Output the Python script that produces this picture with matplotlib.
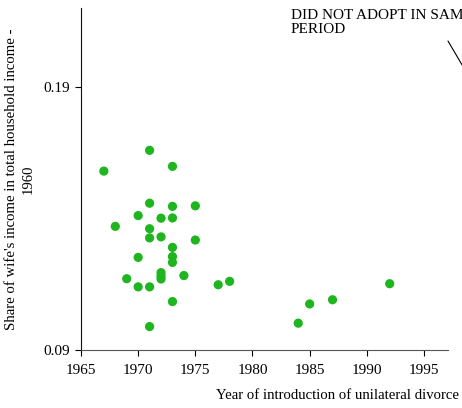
import matplotlib
matplotlib.use("Agg")
import matplotlib.pyplot as plt

plt.rcParams['font.family'] = ['Liberation Serif', 'DejaVu Serif']

# year of introduction of unilateral divorce, wife's income share in 1960
years = [1967, 1968, 1969,
         1970, 1970, 1970,
         1971, 1971, 1971, 1971, 1971, 1971,
         1972, 1972, 1972, 1972, 1972,
         1973, 1973, 1973, 1973, 1973, 1973, 1973,
         1974, 1975, 1975, 1977, 1978,
         1984, 1985, 1987, 1992]
share = [0.1580, 0.1370, 0.1171,
         0.1411, 0.1252, 0.1140,
         0.1659, 0.1458, 0.1361, 0.1326, 0.1140, 0.0989,
         0.1401, 0.1330, 0.1194, 0.1181, 0.1170,
         0.1598, 0.1446, 0.1402, 0.1290, 0.1255, 0.1233, 0.1084,
         0.1183, 0.1448, 0.1318, 0.1148, 0.1161,
         0.1002, 0.1075, 0.1091, 0.1152]

xticks = [1965, 1970, 1975, 1980, 1985, 1990, 1995]
yticks = [0.09, 0.19]

fig = plt.figure(figsize=(4.62, 4.08), dpi=100)
ax = fig.add_axes([81/462, 58/408, 367/462, 342/408])

ax.scatter(years, share, s=44, color='#1fb51f', edgecolors='none', zorder=3)

ax.set_xlim(1965, 1997.1)
ax.set_ylim(0.09, 0.22)
ax.set_xticks(xticks)
ax.set_yticks(yticks)
ax.set_yticklabels(['0.09', '0.19'])
ax.tick_params(labelsize=11, length=4, width=0.8)
ax.tick_params(axis='x', pad=6)
ax.tick_params(axis='y', pad=4)
for s in ['top', 'right']:
    ax.spines[s].set_visible(False)
ax.spines['left'].set_color('#111111')
ax.spines['bottom'].set_color('#555555')

ax.set_ylabel("Share of wife's income in total household income -\n1960",
              fontsize=10.6, labelpad=6, linespacing=1.4)
fig.text(459/462, 6/408, 'Year of introduction of unilateral divorce',
         ha='right', va='bottom', fontsize=10.6)

ax.annotate('DID NOT ADOPT IN SAME\nPERIOD',
            xy=(291, 408 - 9), xycoords='figure pixels',
            ha='left', va='top', fontsize=11, linespacing=1.1,
            annotation_clip=False)
# pointer line running off the right edge
ax.annotate('', xy=(478, 408 - 92), xycoords='figure pixels',
            xytext=(448, 408 - 41), textcoords='figure pixels',
            arrowprops=dict(arrowstyle='-', color='black', lw=0.8,
                            shrinkA=0, shrinkB=0),
            annotation_clip=False)

fig.savefig('out.png', dpi=100)
